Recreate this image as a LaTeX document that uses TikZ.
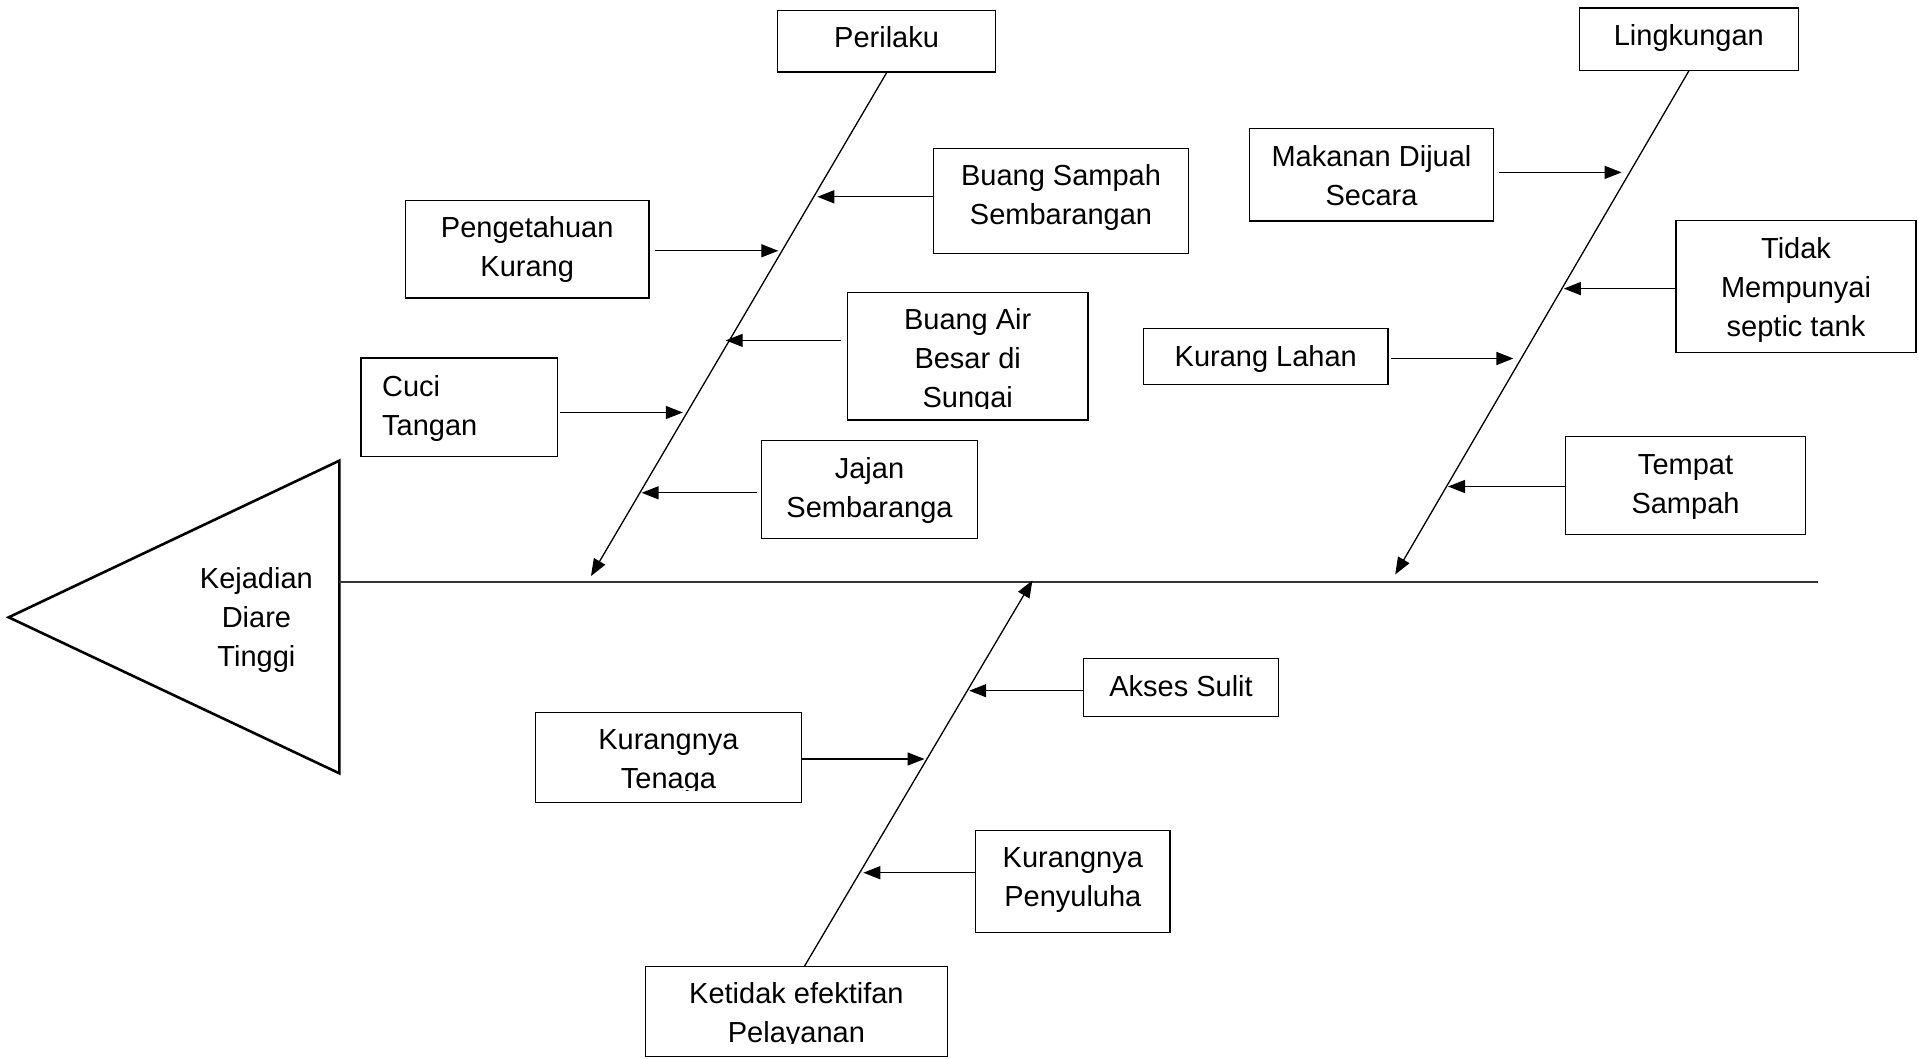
\documentclass[tikz,border=0pt]{standalone}
\usepackage{fontspec}
\setmainfont{Liberation Sans}
\usetikzlibrary{arrows.meta}
\begin{document}
\begin{tikzpicture}[x=1pt,y=-1pt,
  frame/.style={draw, line width=1.4pt, inner sep=0pt},
  txt/.style={align=center, inner sep=0pt, font=\fontsize{29}{39}\selectfont},
  arr/.style={line width=1.3pt, -{Triangle[length=17pt,width=13pt]}},
  bone/.style={line width=1.3pt, -{Triangle[length=17pt,width=13pt]}}]
\useasboundingbox[fill=white] (0,0) rectangle (1919,1059);

% fish head
\draw[line width=2.6pt, line join=miter] (8.7,617.3) -- (339.3,460.7) -- (339.3,773.3) -- cycle;
\node[txt] (head) at (256.4,620) {Kejadian\\Diare\\Tinggi};
\coordinate (spL) at (339.3,582);
\coordinate (spR) at (1817.5,582);
\draw[line width=2pt, black!80] (spL) -- (spR);

% category boxes
\node[frame, minimum width=217.9pt, minimum height=61.7pt] (per) at (886.6,41.2) {};
\node[txt] (per-t) at (886.6,37.5) {Perilaku};
\node[frame, minimum width=218.8pt, minimum height=62.2pt] (lin) at (1688.8,39.2) {};
\node[txt] (lin-t) at (1688.8,38) {Lingkungan};
\node[frame, minimum width=302pt, minimum height=90pt] (ket) at (796.4,1011.7) {};
\begin{scope}
  \clip (645.4,966.7) rectangle (947.4,1043.3);
  \node[txt] (ket-t) at (796.4,1015) {Ketidak efektifan\\Pelayanan};
\end{scope}

% main bones
\coordinate (perTip) at (591,576);
\coordinate (linTip) at (1395.2,574.5);
\coordinate (layTip) at (1032.4,580.5);
\draw[bone] (per.south) -- (perTip);
\draw[bone] (lin.south) -- (linTip);
\draw[bone] ([xshift=8.2pt]ket.north) -- (layTip);

% causes: Perilaku
\node[frame, minimum width=255.3pt, minimum height=105.1pt] (bs) at (1061,201.2) {};
\node[txt] (bs-t) at (1061,198) {Buang Sampah\\Sembarangan};
\node[frame, minimum width=243.9pt, minimum height=97.7pt] (pk) at (527.2,249.3) {};
\node[txt] (pk-t) at (527.2,250) {Pengetahuan\\Kurang};
\node[frame, minimum width=240.2pt, minimum height=127.6pt] (ba) at (967.7,356.1) {};
\begin{scope}
  \clip (847.6,292.3) rectangle (1087.8,408.1);
  \node[txt] (ba-t) at (967.7,361) {Buang Air\\Besar di\\Sungai};
\end{scope}
\node[frame, minimum width=196.8pt, minimum height=98.4pt] (ct) at (459.2,407.3) {};
\node[txt, align=left, anchor=west] (ct-t) at (381.9,408.5) {Cuci\\Tangan};
\node[frame, minimum width=216.3pt, minimum height=97.7pt] (jj) at (869.5,489.4) {};
\node[txt] (jj-t) at (869.5,490) {Jajan\\Sembaranga};

\coordinate (tBs) at (817.3,196.8);
\coordinate (tPk) at (778.3,250.8);
\coordinate (tBa) at (725.7,340.4);
\coordinate (tCt) at (682.8,412.5);
\coordinate (tJj) at (641.6,492.8);
\draw[arr] (bs.west |- tBs) -- (tBs);
\draw[arr, shorten <=5.5pt] (pk.east |- tPk) -- (tPk);
\draw[arr, shorten <=6pt] (ba.west |- tBa) -- (tBa);
\draw[arr, shorten <=2pt] (ct.east |- tCt) -- (tCt);
\draw[arr, shorten <=3.7pt] (jj.west |- tJj) -- (tJj);

% causes: Lingkungan
\node[frame, minimum width=244.5pt, minimum height=92.5pt] (mk) at (1371.5,174.6) {};
\node[txt] (mk-t) at (1371.5,176) {Makanan Dijual\\Secara};
\node[frame, minimum width=240pt, minimum height=132.1pt] (td) at (1796,286.5) {};
\node[txt] (td-t) at (1796,290) {Tidak\\Mempunyai\\septic tank};
\node[frame, minimum width=244.5pt, minimum height=56.3pt] (kl) at (1265.8,356.6) {};
\node[txt] (kl-t) at (1265.8,359) {Kurang Lahan};
\node[frame, minimum width=240.5pt, minimum height=98pt] (ts) at (1685.5,485.6) {};
\node[txt] (ts-t) at (1685.5,487) {Tempat\\Sampah};

\coordinate (tMk) at (1621.6,172.4);
\coordinate (tTd) at (1563.8,288.6);
\coordinate (tKl) at (1513.4,358.5);
\coordinate (tTs) at (1448,486.5);
\draw[arr, shorten <=4.5pt] (mk.east |- tMk) -- (tMk);
\draw[arr] (td.west |- tTd) -- (tTd);
\draw[arr, shorten <=2pt] (kl.east |- tKl) -- (tKl);
\draw[arr] (ts.west |- tTs) -- (tTs);

% causes: Pelayanan
\node[frame, minimum width=194.5pt, minimum height=58.4pt] (as) at (1181,687.5) {};
\node[txt] (as-t) at (1181,686) {Akses Sulit};
\node[frame, minimum width=266.2pt, minimum height=89.6pt] (kt) at (668.5,757.5) {};
\begin{scope}
  \clip (535.4,712.7) rectangle (801.6,790);
  \node[txt] (kt-t) at (668.5,762) {Kurangnya\\Tenaga};
\end{scope}
\node[frame, minimum width=194.1pt, minimum height=101.6pt] (kp) at (1072.8,881.5) {};
\node[txt] (kp-t) at (1072.8,880) {Kurangnya\\Penyuluha};

\coordinate (tAs) at (969.2,690.7);
\coordinate (tKt) at (924.5,759);
\coordinate (tKp) at (863.3,872.7);
\draw[arr] (as.west |- tAs) -- (tAs);
\draw[arr] (kt.east |- tKt) -- (tKt);
\draw[arr] (kp.west |- tKp) -- (tKp);
\end{tikzpicture}
\end{document}
